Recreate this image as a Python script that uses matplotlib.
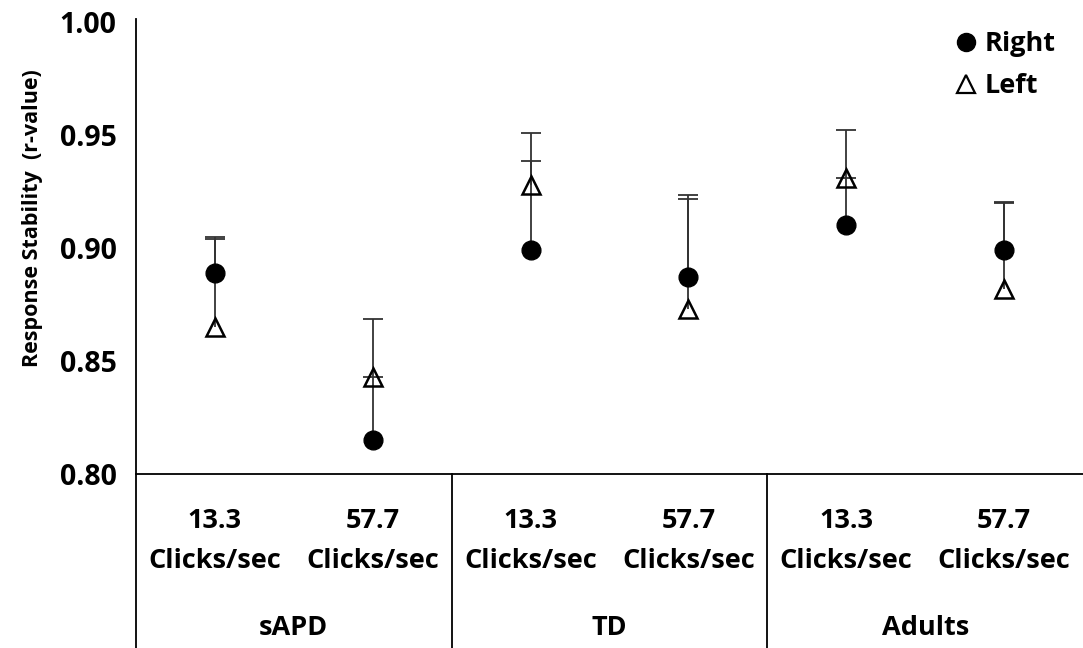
import numpy as np
import matplotlib
matplotlib.use("Agg")
import matplotlib.pyplot as plt
from matplotlib.lines import Line2D

plt.rcParams['font.family'] = ['Open Sans', 'DejaVu Sans']
plt.rcParams['font.weight'] = 'bold'

# data
rates = ["13.3\nClicks/sec", "57.7\nClicks/sec"] * 3
groups = ["sAPD", "TD", "Adults"]
right_mean = [0.889, 0.815, 0.899, 0.887, 0.910, 0.899]
right_top = [0.905, 0.843, 0.9385, 0.9217, 0.931, 0.9205]
left_mean = [0.865, 0.843, 0.928, 0.873, 0.931, 0.882]
left_top = [0.904, 0.8686, 0.951, 0.9235, 0.9522, 0.920]
yticks = [0.80, 0.85, 0.90, 0.95, 1.00]

fig = plt.figure(figsize=(10.83, 6.48), dpi=100)
ax = fig.add_axes([136 / 1083, 1 - 474 / 648, 1 - 136 / 1083, 452 / 648])

x = np.arange(len(rates))

# one-sided (upper) error bars
for mean, top in [(right_mean, right_top), (left_mean, left_top)]:
    ax.vlines(x, mean, top, color='#333333', lw=1.3, zorder=2)
    ax.plot(x, top, ls='none', marker='_', markersize=15, mew=1.3,
            color='#333333', zorder=2)

ax.plot(x, right_mean, ls='none', marker='o', color='black', markersize=13.5, zorder=3)
ax.plot(x, left_mean, ls='none', marker='^', mfc='none', mec='black', mew=1.8,
        markersize=13.5, zorder=3)

ax.set_xlim(-0.5, len(rates) - 0.5)
ax.set_ylim(0.80, 1.00)
ax.set_yticks(yticks)
ax.set_yticklabels(["%.2f" % v for v in yticks], fontsize=20.5, fontweight='bold')
ax.tick_params(axis='y', length=0, pad=14)
ax.set_xticks([])
fig.text(33 / 1083, 1 - 218 / 648, "Response Stability  (r-value)", rotation=90,
         ha='center', va='center', fontsize=15.5, fontweight='bold')

for s in ['top', 'right', 'left']:
    ax.spines[s].set_visible(False)
ax.spines['bottom'].set_linewidth(1.3)

# axis line going down through the category area
bottom = -174 / 452
trans = ax.get_xaxis_transform()
ax.plot([-0.5, -0.5], [bottom, 1.007], transform=trans,
        color='black', lw=1.3, clip_on=False)
for b in [1.5, 3.5]:
    ax.plot([b, b], [0, bottom], transform=trans, color='black', lw=1.3, clip_on=False)

for i, lab in enumerate(rates):
    ax.text(i, -67 / 452, lab, transform=trans, ha='center', va='center',
            fontsize=19.5, fontweight='bold', linespacing=1.72)
for g, name in enumerate(groups):
    ax.text(2 * g + 0.5, -154 / 452, name, transform=trans, ha='center',
            va='center', fontsize=19.5, fontweight='bold')

handles = [Line2D([], [], marker='o', ls='none', color='black', markersize=13),
           Line2D([], [], marker='^', ls='none', mfc='none', mec='black', mew=1.6,
                  markersize=13)]
ax.legend(handles, ['Right', 'Left'], loc='upper right', frameon=False, fontsize=19.5,
          handletextpad=0.25, handlelength=0.9, borderaxespad=0, borderpad=0,
          labelspacing=0.6, bbox_to_anchor=(1056 / 1083, 1 - 31 / 648),
          bbox_transform=fig.transFigure)

fig.savefig("out.png", dpi=100)
